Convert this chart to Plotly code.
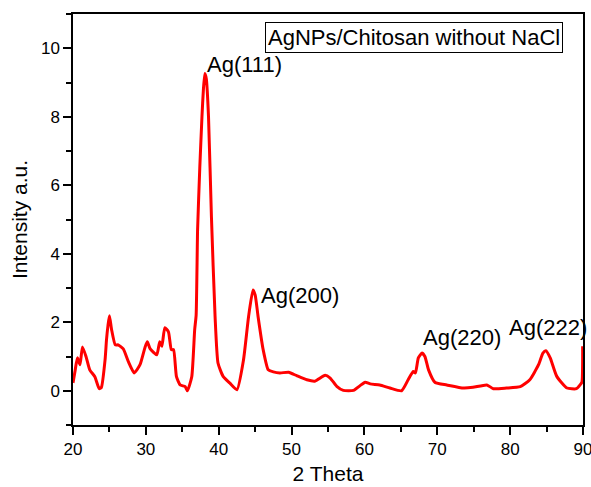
import plotly.graph_objects as go

two_theta = [20.0, 20.3, 20.6, 20.96, 21.3, 21.8, 22.3, 23.0, 23.6, 23.9, 24.4, 24.6, 24.8, 25.0,
             25.3, 25.8, 26.2, 26.9, 27.6, 28.4, 29.2, 29.9, 30.2, 30.6, 31.5, 31.9, 32.2, 32.6,
             33.1, 33.5, 33.8, 34.2, 34.7, 35.4, 35.7, 36.3, 36.7, 36.9, 37.1, 37.4, 37.7, 37.9,
             38.1, 38.3, 38.6, 39.0, 39.5, 39.9, 40.6, 41.5, 42.5, 43.4, 44.1, 44.7, 45.0, 45.4,
             46.1, 46.8, 47.5, 48.4, 49.6, 50.7, 52.1, 53.2, 54.6, 55.3, 56.2, 57.1, 58.5, 59.4,
             60.1, 60.8, 62.1, 63.5, 65.1, 66.0, 66.7, 67.0, 67.4, 67.9, 68.3, 68.8, 69.7, 71.3,
             73.6, 74.9, 76.8, 77.7, 79.5, 81.4, 82.7, 83.9, 84.5, 84.9, 85.5, 86.4, 87.8, 89.1,
             89.6, 89.85, 89.95]
intensity = [0.23, 0.6, 0.96, 0.76, 1.28, 0.99, 0.61, 0.41, 0.06, 0.1, 0.9, 1.49, 1.9, 2.19,
             1.78, 1.34, 1.34, 1.22, 0.85, 0.52, 0.76, 1.28, 1.43, 1.22, 1.05, 1.43, 1.3, 1.84,
             1.72, 1.2, 1.2, 0.41, 0.17, 0.12, 0.0, 0.41, 1.78, 2.2, 4.7, 6.5, 8.0, 8.8,
             9.26, 9.1, 8.0, 5.08, 2.17, 0.81, 0.42, 0.23, 0.03, 0.9, 2.17, 2.94, 2.8, 2.17,
             1.2, 0.61, 0.55, 0.52, 0.54, 0.44, 0.32, 0.28, 0.45, 0.37, 0.13, 0.01, 0.01, 0.15,
             0.25, 0.2, 0.17, 0.08, 0.0, 0.32, 0.56, 0.52, 0.96, 1.1, 1.0, 0.61, 0.24, 0.17,
             0.08, 0.1, 0.17, 0.06, 0.08, 0.12, 0.32, 0.76, 1.1, 1.17, 0.96, 0.42, 0.08, 0.06,
             0.17, 0.25, 1.3]

peak_labels = ["Ag(111)", "Ag(200)", "Ag(220)", "Ag(222)"]
peak_label_x = [38.1, 45.5, 67.8, 79.6]
peak_label_y = [9.53, 2.77, 1.55, 1.84]

legend_text = "AgNPs/Chitosan without NaCl"

font_family = "Arial, Liberation Sans, sans-serif"

fig = go.Figure()
fig.add_trace(go.Scatter(x=two_theta, y=intensity, mode="lines",
                         line=dict(color="#ff0000", width=3, shape="spline", smoothing=0.5),
                         showlegend=False))

for t, x, y in zip(peak_labels, peak_label_x, peak_label_y):
    fig.add_annotation(x=x, y=y, text=t, showarrow=False, xanchor="left", yanchor="middle",
                       font=dict(size=22, color="black", family=font_family))

fig.add_annotation(x=0.668, y=0.942, xref="paper", yref="paper", text=legend_text,
                   showarrow=False, xanchor="center", yanchor="middle",
                   font=dict(size=22, color="black", family=font_family),
                   bordercolor="black", borderwidth=1, borderpad=2, bgcolor="white")

axis_common = dict(showline=True, linecolor="black", linewidth=1.5, mirror=True,
                   ticks="outside", ticklen=8, tickwidth=1.5, tickcolor="black",
                   showgrid=False, zeroline=False, automargin=False,
                   ticklabeloverflow="allow",
                   tickfont=dict(size=17, color="black", family=font_family))

fig.update_xaxes(range=[20, 90], dtick=10, tick0=20,
                 minor=dict(dtick=5, ticks="outside", ticklen=5, tickwidth=1.5, tickcolor="black"),
                 title=dict(text="2 Theta", font=dict(size=21, color="black", family=font_family),
                            standoff=8),
                 **axis_common)
fig.update_yaxes(range=[-1, 11], dtick=2, tick0=0,
                 minor=dict(dtick=1, ticks="outside", ticklen=5, tickwidth=1.5, tickcolor="black"),
                 title=dict(text="Intensity a.u.", font=dict(size=21, color="black", family=font_family),
                            standoff=8),
                 **axis_common)

fig.update_layout(width=591, height=487, margin=dict(l=73, r=8, t=14, b=62, autoexpand=False),
                  plot_bgcolor="white", paper_bgcolor="white",
                  font=dict(family=font_family, color="black"))

fig.write_html("out.html")
